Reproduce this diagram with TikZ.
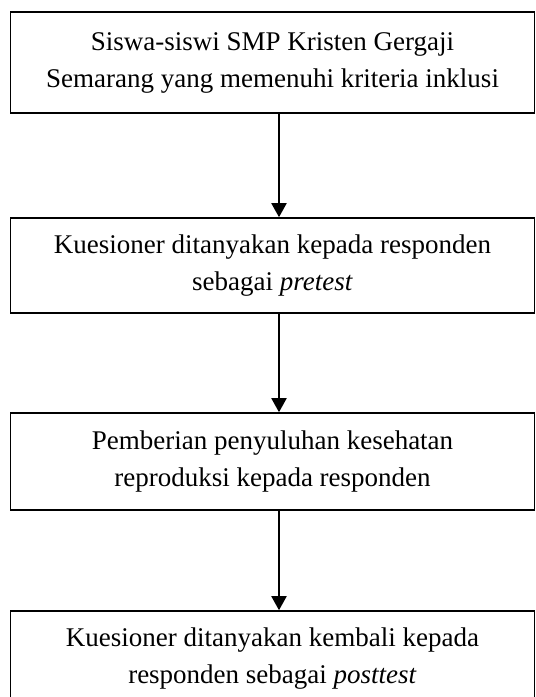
\documentclass[tikz,border=0pt]{standalone}
\usepackage{fontspec}
\setmainfont{Liberation Serif}
\usetikzlibrary{arrows.meta}
\begin{document}
\begin{tikzpicture}[x=1pt,y=1pt,
  stepbox/.style={draw, line width=1.6pt, minimum width=524pt, inner sep=0pt,
    align=center, font=\fontsize{27}{37}\selectfont},
  flow/.style={line width=2pt, -{Triangle[length=14pt,width=15pt]}}]
\useasboundingbox (0,0) rectangle (536,-697);
\clip (0,0) rectangle (536,-697);

% flow steps, top to bottom
\node[stepbox, minimum height=101pt] (b1) at (272.5,-62.5)
  {Siswa-siswi SMP Kristen Gergaji\\Semarang yang memenuhi kriteria inklusi};
\node[stepbox, minimum height=95pt] (b2) at (272.5,-265.5)
  {Kuesioner ditanyakan kepada responden\\sebagai \textit{pretest}};
\node[stepbox, minimum height=97pt] (b3) at (272.5,-461.5)
  {Pemberian penyuluhan kesehatan\\reproduksi kepada responden};
\node[stepbox, minimum height=95pt] (b4) at (272.5,-658.5)
  {Kuesioner ditanyakan kembali kepada\\responden sebagai \textit{posttest}};

% connecting arrows
\draw[flow] ([xshift=6.5pt]b1.south) -- ([xshift=6.5pt]b2.north);
\draw[flow] ([xshift=6.5pt]b2.south) -- ([xshift=6.5pt]b3.north);
\draw[flow] ([xshift=6.5pt]b3.south) -- ([xshift=6.5pt]b4.north);
\end{tikzpicture}
\end{document}
